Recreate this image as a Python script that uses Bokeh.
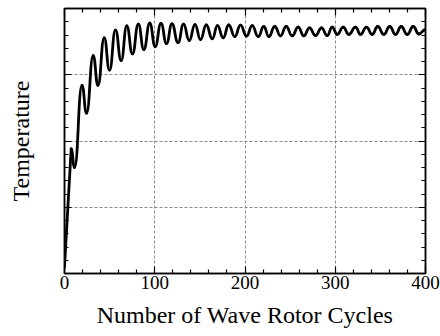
from bokeh.plotting import figure
from bokeh.models import LinearAxis, FixedTicker, Range1d, CustomJSTickFormatter, ColumnDataSource
from bokeh.embed import file_html
from bokeh.resources import INLINE

# ---- data ----
x_ticks = [0, 100, 200, 300, 400]
x_minor = [20, 40, 60, 80, 120, 140, 160, 180, 220, 240, 260, 280, 320, 340, 360, 380]
y_ticks = [0, 1, 2, 3, 4]
y_minor = [0.2, 0.4, 0.6, 0.8, 1.2, 1.4, 1.6, 1.8, 2.2, 2.4, 2.6, 2.8, 3.2, 3.4, 3.6, 3.8]

# start point, then alternating peaks / troughs of the oscillation, then end point
cycles = [0, 7.4, 11.1, 19.4, 24.4, 31.8, 37.1, 44.0, 49.9, 56.5, 62.8, 69.0, 75.3,
          81.8, 87.9, 94.5, 100.5, 106.9, 113.0, 119.1, 125.8, 131.9, 138.2, 144.6,
          150.7, 157.1, 163.7, 169.5, 175.8, 182.0, 188.7, 195.0, 201.7, 208.0, 214.6,
          220.8, 226.4, 233.0, 239.3, 245.6, 252.3, 258.9, 265.2, 271.5, 278.1, 284.8,
          291.1, 296.6, 302.2, 308.8, 315.0, 322.4, 328.0, 334.6, 340.9, 347.1, 353.8,
          360.4, 366.8, 373.1, 379.7, 386.4, 392.6, 400.0]
temperature = [0.10, 1.88, 1.60, 2.84, 2.42, 3.29, 2.84, 3.555, 3.07, 3.675, 3.215,
               3.736, 3.316, 3.763, 3.381, 3.777, 3.426, 3.774, 3.472, 3.766, 3.487,
               3.763, 3.517, 3.758, 3.532, 3.751, 3.543, 3.743, 3.558, 3.751, 3.577,
               3.748, 3.585, 3.743, 3.577, 3.728, 3.577, 3.728, 3.588, 3.728, 3.588,
               3.718, 3.588, 3.709, 3.592, 3.709, 3.592, 3.718, 3.608, 3.718, 3.608,
               3.718, 3.608, 3.718, 3.608, 3.728, 3.608, 3.728, 3.608, 3.728, 3.608,
               3.728, 3.615, 3.683]

FONT = "Liberation Serif"

p = figure(width=440, height=336, output_backend="svg", toolbar_location=None,
           x_range=Range1d(0, 400), y_range=Range1d(0, 4),
           min_border_left=64, min_border_right=15, min_border_top=8, min_border_bottom=63,
           x_axis_label="Number of Wave Rotor Cycles", y_axis_label="Temperature")
p.background_fill_color = "white"
p.border_fill_color = "white"
p.outline_line_color = "black"
p.outline_line_width = 1.5

xt = FixedTicker(ticks=x_ticks, minor_ticks=x_minor)
yt = FixedTicker(ticks=y_ticks, minor_ticks=y_minor)

def style(ax):
    ax.axis_line_color = "black"
    ax.axis_line_width = 1.5
    ax.major_tick_in = 7
    ax.major_tick_out = 0
    ax.minor_tick_in = 4
    ax.minor_tick_out = 0
    ax.major_tick_line_width = 1.2
    ax.minor_tick_line_width = 1.2
    ax.major_tick_line_color = "black"
    ax.minor_tick_line_color = "black"

xa = p.xaxis[0]
xa.ticker = xt
style(xa)
xa.major_label_text_font = FONT
xa.major_label_text_font_size = "19px"
xa.major_label_text_color = "black"
xa.major_label_standoff = 2
xa.axis_label_text_font = FONT
xa.axis_label_text_font_size = "24px"
xa.axis_label_text_font_style = "normal"
xa.axis_label_text_color = "black"
xa.axis_label_standoff = 10

ya = p.yaxis[0]
ya.ticker = yt
style(ya)
ya.formatter = CustomJSTickFormatter(code="return ''")
ya.major_label_text_font_size = "1px"
ya.major_label_standoff = 0
ya.axis_label_text_font = FONT
ya.axis_label_text_font_size = "24px"
ya.axis_label_text_font_style = "normal"
ya.axis_label_text_color = "black"
ya.axis_label_standoff = 31

top = LinearAxis(ticker=xt, formatter=CustomJSTickFormatter(code="return ''"))
style(top)
top.major_label_text_font_size = "1px"
top.major_label_standoff = 0
p.add_layout(top, "above")

right = LinearAxis(ticker=yt, formatter=CustomJSTickFormatter(code="return ''"))
style(right)
right.major_label_text_font_size = "1px"
right.major_label_standoff = 0
p.add_layout(right, "right")

for g in (p.xgrid[0], p.ygrid[0]):
    g.grid_line_color = "#8a8a8a"
    g.grid_line_dash = "3 2"
    g.grid_line_width = 1
p.xgrid[0].ticker = xt
p.ygrid[0].ticker = yt

LW = 2.8

# first steep rise as a straight segment
p.line(cycles[:2], temperature[:2], line_color="black", line_width=LW, line_cap="round")

# each half-oscillation drawn as a smooth cubic curve between extrema
x0 = cycles[1:-1]
x1 = cycles[2:]
y0 = temperature[1:-1]
y1 = temperature[2:]
src = ColumnDataSource(dict(
    x0=x0, y0=y0, x1=x1, y1=y1,
    cx0=[a + (b - a) * 0.5 for a, b in zip(x0, x1)], cy0=y0,
    cx1=[b - (b - a) * 0.5 for a, b in zip(x0, x1)], cy1=y1,
))
p.bezier(x0="x0", y0="y0", x1="x1", y1="y1", cx0="cx0", cy0="cy0", cx1="cx1", cy1="cy1",
         source=src, line_color="black", line_width=LW, line_cap="round")

open("out.html", "w").write(file_html(p, INLINE))
